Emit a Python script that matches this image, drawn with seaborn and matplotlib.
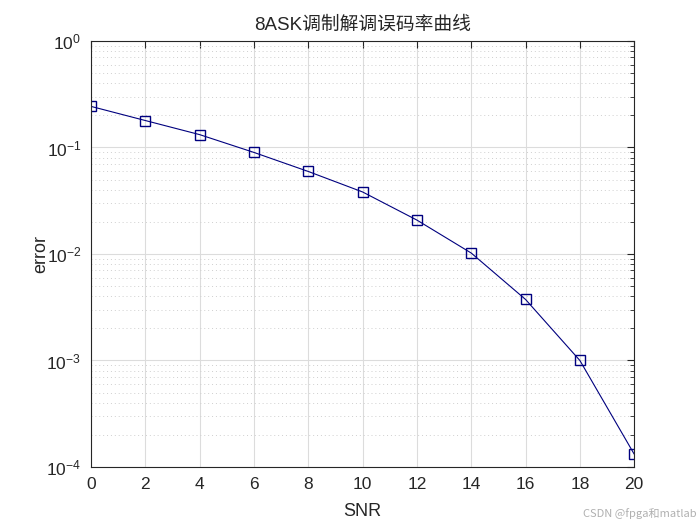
import matplotlib
matplotlib.use("Agg")
import matplotlib.pyplot as plt
import seaborn as sns
import pandas as pd
from matplotlib.ticker import LogLocator, NullFormatter

snr = [0, 2, 4, 6, 8, 10, 12, 14, 16, 18, 20]
error = [0.243, 0.179, 0.132, 0.0898, 0.0595, 0.0382, 0.0208, 0.0102, 0.00374, 0.00100, 0.000132]
xticks = [0, 2, 4, 6, 8, 10, 12, 14, 16, 18, 20]

sns.set_style("white")
plt.rcParams['font.family'] = ['Liberation Sans', 'Noto Sans CJK SC', 'DejaVu Sans']
plt.rcParams['mathtext.fontset'] = 'custom'
plt.rcParams['mathtext.rm'] = 'Liberation Sans'
plt.rcParams['mathtext.it'] = 'Liberation Sans'
plt.rcParams['mathtext.default'] = 'regular'

df = pd.DataFrame({"SNR": snr, "error": error})

fig = plt.figure(figsize=(7, 5.25), dpi=100)
ax = fig.add_axes([0.13, 0.1105, 0.776, 0.8115])
sns.lineplot(data=df, x="SNR", y="error", ax=ax, color="#00007f", linewidth=0.8,
             marker="s", markersize=6.5, markerfacecolor="none",
             markeredgecolor="#00007f", markeredgewidth=1.0)
ax.set_yscale("log")
ax.set_xlim(0, 20)
ax.set_ylim(1e-4, 1)
ax.set_xticks(xticks)
ax.yaxis.set_major_locator(LogLocator(base=10, numticks=10))
ax.yaxis.set_minor_locator(LogLocator(base=10, subs=range(2, 10), numticks=20))
ax.yaxis.set_minor_formatter(NullFormatter())
ax.grid(True, which="major", color="#dcdcdc", linewidth=0.8, linestyle="-")
ax.grid(True, which="minor", axis="y", color="#cfcfcf", linewidth=0.7, linestyle=(0, (1, 3)))
ax.set_axisbelow(True)
for s in ax.spines.values():
    s.set_color("#262626")
    s.set_linewidth(0.8)
ax.tick_params(which="both", direction="in", top=True, right=True, colors="#262626",
               labelsize=12.5)
ax.tick_params(which="major", length=5, pad=7)
ax.tick_params(which="minor", length=3)
ax.set_xlabel("SNR", fontsize=13, color="#262626", labelpad=8)
ax.set_ylabel("error", fontsize=13, color="#262626", labelpad=-2)
ax.set_title("8ASK调制解调误码率曲线", fontsize=13.5, color="#262626",
             family=['Liberation Sans', 'Noto Sans CJK SC', 'DejaVu Sans'], pad=8)
fig.text(0.995, 0.012, "CSDN @fpga和matlab", ha="right", va="bottom", fontsize=8,
         color="#b0b0b0", family=['Noto Sans CJK SC', 'DejaVu Sans'])
fig.savefig("out.png", dpi=100)
